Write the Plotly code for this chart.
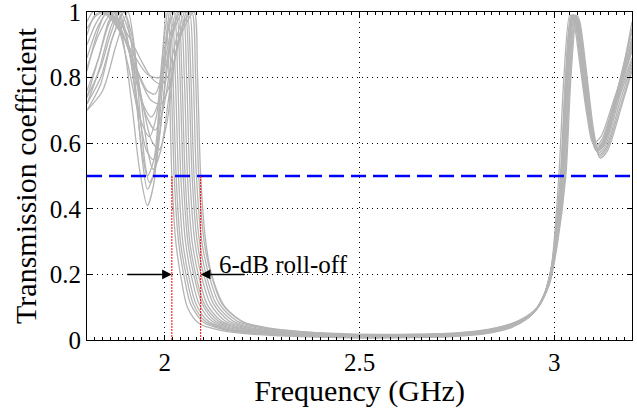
import plotly.graph_objects as go

# ---------------- data ----------------
f01 = [1.80,1.83,1.855,1.87,1.89,1.915,1.935,1.955,1.972,1.988,2.003,2.011,2.018,2.028,2.043,2.058,2.088,2.14,2.22,2.35,2.5,2.65,2.75,2.83,2.89,2.93,2.965,2.99,3.012,3.025,3.04,3.05,3.065,3.085,3.10,3.12,3.15,3.2]
t01 = [0.74,0.86,0.97,1.0,0.93,0.72,0.52,0.41,0.48,0.75,1.0,0.8,0.5,0.3,0.18,0.10,0.05,0.03,0.018,0.01,0.006,0.007,0.011,0.02,0.038,0.065,0.11,0.2,0.5,0.8,0.99,0.97,0.85,0.68,0.6,0.62,0.72,0.9]

f02 = [1.80,1.825,1.85,1.875,1.905,1.935,1.96,1.978,1.993,2.008,2.016,2.024,2.035,2.05,2.066,2.098,2.15,2.23,2.35,2.5,2.65,2.75,2.83,2.89,2.935,2.968,2.993,3.016,3.029,3.043,3.053,3.068,3.088,3.104,3.122,3.155,3.2]
t02 = [0.82,0.93,1.0,0.97,0.84,0.68,0.62,0.68,0.86,1.0,0.8,0.5,0.3,0.19,0.11,0.055,0.032,0.02,0.012,0.008,0.009,0.013,0.022,0.04,0.07,0.12,0.22,0.5,0.8,0.99,0.97,0.84,0.67,0.59,0.61,0.73,0.92]

f03 = [1.80,1.83,1.86,1.88,1.90,1.925,1.942,1.955,1.972,1.99,2.013,2.021,2.029,2.04,2.056,2.073,2.105,2.16,2.24,2.35,2.5,2.65,2.75,2.83,2.89,2.94,2.972,2.996,3.019,3.031,3.046,3.056,3.071,3.091,3.107,3.125,3.16,3.2]
t03 = [0.72,0.82,0.95,1.0,0.94,0.74,0.57,0.50,0.55,0.78,1.0,0.8,0.5,0.3,0.19,0.11,0.056,0.032,0.02,0.013,0.01,0.011,0.015,0.024,0.042,0.075,0.13,0.24,0.5,0.8,0.99,0.97,0.84,0.66,0.58,0.6,0.74,0.9]

f04 = [1.80,1.82,1.84,1.865,1.895,1.93,1.955,1.975,1.99,2.005,2.018,2.027,2.035,2.046,2.062,2.08,2.113,2.17,2.25,2.35,2.5,2.65,2.75,2.83,2.9,2.945,2.975,2.998,3.02,3.033,3.048,3.058,3.073,3.093,3.109,3.127,3.16,3.2]
t04 = [0.93,0.99,1.0,0.98,0.92,0.82,0.76,0.75,0.8,0.93,1.0,0.8,0.5,0.3,0.19,0.11,0.056,0.033,0.02,0.014,0.012,0.013,0.017,0.026,0.048,0.08,0.14,0.25,0.5,0.8,0.99,0.97,0.84,0.66,0.58,0.6,0.73,0.88]

f05 = [1.80,1.835,1.865,1.895,1.912,1.93,1.943,1.955,1.97,1.99,2.008,2.024,2.033,2.041,2.053,2.069,2.088,2.122,2.18,2.26,2.36,2.5,2.65,2.75,2.83,2.89,2.938,2.97,2.994,3.017,3.03,3.045,3.055,3.07,3.09,3.106,3.124,3.158,3.2]
t05 = [0.70,0.78,0.92,1.0,0.92,0.7,0.54,0.46,0.5,0.72,0.94,1.0,0.8,0.5,0.3,0.19,0.11,0.057,0.033,0.021,0.014,0.009,0.01,0.014,0.023,0.04,0.072,0.125,0.23,0.5,0.8,0.99,0.97,0.84,0.67,0.585,0.605,0.74,0.94]

f06 = [1.80,1.83,1.855,1.88,1.91,1.94,1.965,1.985,2.005,2.03,2.039,2.047,2.059,2.076,2.096,2.13,2.19,2.27,2.37,2.5,2.65,2.75,2.83,2.9,2.948,2.978,3.0,3.022,3.035,3.05,3.06,3.075,3.095,3.111,3.129,3.165,3.2]
t06 = [0.86,0.96,1.0,0.97,0.87,0.73,0.68,0.73,0.88,1.0,0.8,0.5,0.3,0.19,0.11,0.057,0.034,0.022,0.015,0.013,0.014,0.018,0.028,0.05,0.085,0.15,0.26,0.5,0.8,0.99,0.97,0.84,0.66,0.575,0.595,0.74,0.86]

f07 = [1.80,1.83,1.855,1.875,1.90,1.93,1.952,1.97,1.988,2.008,2.035,2.044,2.052,2.064,2.081,2.101,2.137,2.2,2.28,2.38,2.5,2.65,2.75,2.83,2.895,2.942,2.974,2.997,3.019,3.032,3.047,3.057,3.072,3.092,3.108,3.126,3.16,3.2]
t07 = [0.76,0.86,0.96,1.0,0.93,0.72,0.58,0.55,0.64,0.87,1.0,0.8,0.5,0.3,0.19,0.11,0.058,0.034,0.022,0.015,0.011,0.012,0.016,0.025,0.045,0.078,0.135,0.24,0.5,0.8,0.99,0.97,0.84,0.665,0.58,0.6,0.73,0.91]

f08 = [1.80,1.815,1.835,1.86,1.89,1.925,1.955,1.985,2.005,2.022,2.04,2.05,2.058,2.07,2.088,2.108,2.145,2.21,2.29,2.39,2.5,2.65,2.75,2.83,2.9,2.95,2.98,3.002,3.024,3.037,3.052,3.061,3.076,3.097,3.113,3.131,3.168,3.2]
t08 = [0.97,1.0,1.0,0.98,0.93,0.86,0.81,0.80,0.85,0.95,1.0,0.8,0.5,0.3,0.19,0.11,0.058,0.034,0.023,0.016,0.014,0.015,0.019,0.029,0.052,0.09,0.155,0.27,0.5,0.8,0.99,0.97,0.84,0.65,0.57,0.59,0.74,0.85]

f09 = [1.80,1.84,1.875,1.905,1.92,1.937,1.95,1.96,1.975,1.995,2.02,2.046,2.056,2.064,2.077,2.095,2.117,2.155,2.22,2.3,2.4,2.5,2.65,2.75,2.83,2.892,2.94,2.972,2.996,3.018,3.031,3.046,3.056,3.071,3.091,3.107,3.125,3.158,3.2]
t09 = [0.70,0.76,0.9,1.0,0.91,0.68,0.53,0.48,0.52,0.72,0.93,1.0,0.8,0.5,0.3,0.19,0.11,0.058,0.035,0.023,0.016,0.01,0.011,0.015,0.024,0.043,0.075,0.13,0.235,0.5,0.8,0.99,0.97,0.84,0.665,0.58,0.6,0.74,0.95]

f10 = [1.80,1.83,1.865,1.89,1.92,1.95,1.975,1.995,2.02,2.052,2.062,2.07,2.083,2.102,2.125,2.165,2.23,2.31,2.41,2.5,2.65,2.75,2.83,2.905,2.952,2.982,3.004,3.026,3.039,3.054,3.063,3.078,3.099,3.115,3.133,3.17,3.2]
t10 = [0.83,0.93,1.0,0.96,0.84,0.69,0.64,0.7,0.87,1.0,0.8,0.5,0.3,0.19,0.11,0.058,0.035,0.024,0.017,0.015,0.016,0.02,0.03,0.055,0.092,0.16,0.28,0.5,0.8,0.99,0.97,0.84,0.645,0.565,0.585,0.73,0.84]

f11 = [1.80,1.835,1.86,1.885,1.91,1.94,1.965,1.985,2.005,2.028,2.057,2.067,2.075,2.089,2.108,2.132,2.175,2.24,2.32,2.42,2.5,2.65,2.75,2.83,2.897,2.945,2.976,2.999,3.021,3.034,3.049,3.059,3.074,3.094,3.11,3.128,3.163,3.2]
t11 = [0.74,0.83,0.93,1.0,0.93,0.74,0.61,0.58,0.66,0.87,1.0,0.8,0.5,0.3,0.19,0.11,0.058,0.036,0.024,0.017,0.012,0.013,0.017,0.026,0.047,0.08,0.14,0.25,0.5,0.8,0.99,0.97,0.84,0.66,0.575,0.595,0.74,0.89]

f12 = [1.80,1.825,1.845,1.87,1.90,1.935,1.965,1.99,2.01,2.035,2.063,2.073,2.081,2.095,2.115,2.14,2.185,2.255,2.34,2.43,2.5,2.65,2.75,2.83,2.91,2.955,2.985,3.006,3.028,3.041,3.056,3.064,3.079,3.1,3.116,3.134,3.172,3.2]
t12 = [0.90,0.97,1.0,0.98,0.91,0.8,0.73,0.72,0.77,0.91,1.0,0.8,0.5,0.3,0.19,0.11,0.058,0.036,0.025,0.018,0.016,0.017,0.021,0.031,0.058,0.096,0.165,0.285,0.5,0.8,0.99,0.97,0.84,0.64,0.56,0.58,0.72,0.83]

f13 = [1.80,1.835,1.865,1.895,1.915,1.94,1.957,1.97,1.99,2.015,2.04,2.069,2.079,2.087,2.101,2.121,2.147,2.195,2.27,2.36,2.45,2.55,2.65,2.75,2.83,2.895,2.943,2.975,2.998,3.02,3.033,3.048,3.058,3.073,3.093,3.109,3.127,3.162,3.2]
t13 = [0.72,0.8,0.92,1.0,0.93,0.72,0.57,0.52,0.58,0.78,0.94,1.0,0.8,0.5,0.3,0.19,0.11,0.058,0.036,0.025,0.017,0.012,0.012,0.016,0.025,0.046,0.079,0.138,0.245,0.5,0.8,0.99,0.97,0.84,0.66,0.578,0.598,0.74,0.97]

f14 = [1.80,1.825,1.85,1.875,1.905,1.94,1.965,1.99,2.015,2.045,2.075,2.084,2.092,2.105,2.12,2.155,2.21,2.3,2.44,2.55,2.65,2.75,2.83,2.91,2.958,2.988,3.008,3.03,3.043,3.058,3.066,3.081,3.102,3.118,3.136,3.175,3.2]
t14 = [0.95,0.99,1.0,0.98,0.93,0.85,0.8,0.78,0.82,0.94,1.0,0.8,0.5,0.3,0.2,0.1,0.05,0.03,0.02,0.017,0.018,0.022,0.032,0.06,0.1,0.17,0.29,0.5,0.8,0.99,0.97,0.84,0.635,0.555,0.575,0.72,0.82]

freq_sets = [f01, f02, f03, f04, f05, f06, f07, f08, f09, f10, f11, f12, f13, f14]
trans_sets = [t01, t02, t03, t04, t05, t06, t07, t08, t09, t10, t11, t12, t13, t14]

threshold = 0.5
rolloff_low = 2.018
rolloff_high = 2.092
arrow_left_tail = 1.90
arrow_right_tail = 2.209
arrow_level = 0.2
label_x = 2.133
label_text = "6-dB roll-off"

x_range = [1.8, 3.2]
x_ticks = [2, 2.5, 3]
x_ticktext = ["2", "2.5", "3"]
y_range = [0, 1]
y_ticks = [0, 0.2, 0.4, 0.6, 0.8, 1]
y_ticktext = ["0", "0.2", "0.4", "0.6", "0.8", "1"]

# ---------------- figure ----------------
FONT = "Liberation Serif"
fig = go.Figure()
for fx, ty in zip(freq_sets, trans_sets):
    fig.add_trace(go.Scatter(x=fx, y=ty, mode="lines",
                             line=dict(color="#b4b4b4", width=1.3, shape="spline", smoothing=0.8),
                             hoverinfo="skip", showlegend=False))

fig.add_trace(go.Scatter(x=x_range, y=[threshold, threshold], mode="lines",
                         line=dict(color="#0000ff", width=2.5, dash="15px,7px"),
                         showlegend=False, hoverinfo="skip"))

for xv in (rolloff_low, rolloff_high):
    fig.add_trace(go.Scatter(x=[xv, xv], y=[0, threshold], mode="lines",
                             line=dict(color="#ff0000", width=1, dash="2px,1px"),
                             showlegend=False, hoverinfo="skip"))

axis_common = dict(showline=True, linecolor="black", linewidth=1, mirror="ticks",
                   ticks="inside", ticklen=5, tickcolor="black",
                   showgrid=True, gridcolor="black", gridwidth=1, griddash="1px,4px",
                   zeroline=False, automargin=False, ticklabeloverflow="allow",
                   tickfont=dict(family=FONT, size=25, color="black"))

fig.update_xaxes(range=x_range, tickvals=x_ticks, ticktext=x_ticktext,
                 title=dict(text="Frequency (GHz)", font=dict(family=FONT, size=30, color="black"), standoff=0),
                 minor=dict(ticks="inside", ticklen=3, tickcolor="black", dtick=0.02, tick0=2, showgrid=False),
                 **axis_common)
fig.update_yaxes(range=y_range, tickvals=y_ticks, ticktext=y_ticktext,
                 title=dict(text="Transmission coefficient", font=dict(family=FONT, size=30, color="black"), standoff=4),
                 **axis_common)

fig.add_annotation(x=rolloff_low, y=arrow_level, ax=arrow_left_tail, ay=arrow_level,
                   xref="x", yref="y", axref="x", ayref="y", text="", showarrow=True,
                   arrowhead=2, arrowsize=1.3, arrowwidth=1.5, arrowcolor="black")
fig.add_annotation(x=rolloff_high, y=arrow_level, ax=arrow_right_tail, ay=arrow_level,
                   xref="x", yref="y", axref="x", ayref="y", text="", showarrow=True,
                   arrowhead=2, arrowsize=1.3, arrowwidth=1.5, arrowcolor="black")
fig.add_annotation(x=label_x, y=arrow_level, xref="x", yref="y", text=label_text,
                   showarrow=False, xanchor="left", yanchor="bottom", yshift=-6,
                   font=dict(family=FONT, size=25, color="black"))

fig.update_layout(width=637, height=408, margin=dict(l=87, r=5, t=12, b=68),
                  plot_bgcolor="white", paper_bgcolor="white")

fig.write_html("out.html", config={"displayModeBar": False},
               post_script="document.body.style.margin='0';document.body.style.padding='0';")
